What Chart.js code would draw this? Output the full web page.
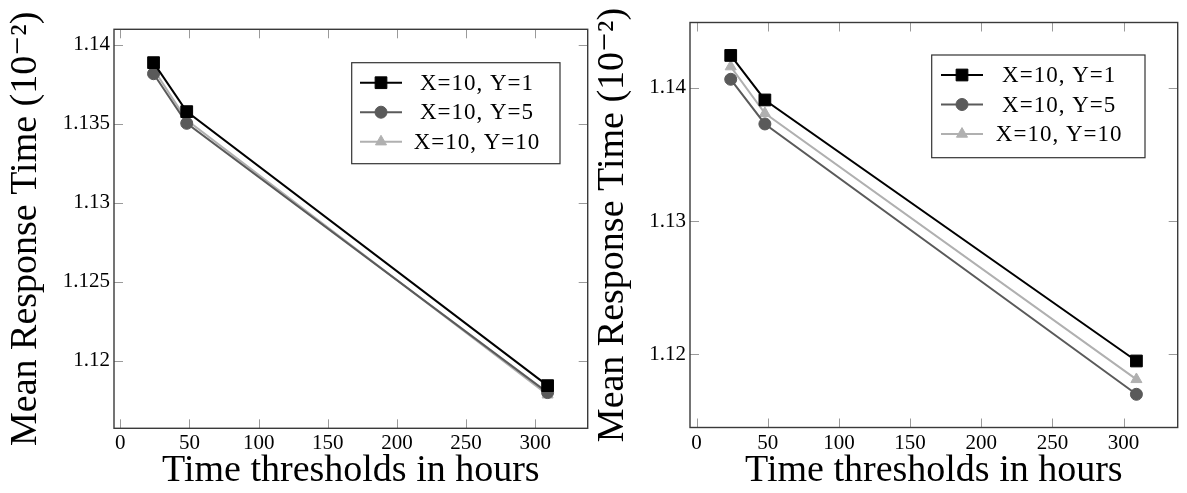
<!DOCTYPE html>
<html>
<head>
<meta charset="utf-8">
<script src="https://cdn.jsdelivr.net/npm/chart.js@4.4.1/dist/chart.umd.min.js"></script>
<style>
  html, body { margin: 0; padding: 0; background: #fff; }
  #wrap { position: relative; width: 1187px; height: 493px; overflow: hidden; }
  .panel { position: absolute; top: 0; height: 493px; }
  #panelA { left: 0; width: 597px; }
  #panelB { left: 590px; width: 597px; }
</style>
</head>
<body>
<div id="wrap">
  <div class="panel" id="panelA"><canvas id="chartA"></canvas></div>
  <div class="panel" id="panelB"><canvas id="chartB"></canvas></div>
</div>
<script>
// Time thresholds (hours) shared by both panels
const hours = [24, 48, 309];

// Series labels
const seriesNames = ['X=10, Y=1', 'X=10, Y=5', 'X=10, Y=10'];

// Left panel: mean response time (units of 10^-2)
const leftY1  = [1.13888, 1.13578, 1.11844];
const leftY5  = [1.13818, 1.13504, 1.11800];
const leftY10 = [1.13846, 1.13525, 1.11786];

// Right panel: mean response time (units of 10^-2)
const rightY1  = [1.14242, 1.13908, 1.11950];
const rightY5  = [1.14063, 1.13728, 1.11700];
const rightY10 = [1.14158, 1.13808, 1.11812];

// Tick values and labels
const xTicks = [0, 50, 100, 150, 200, 250, 300];
const xTickLabels = ['0', '50', '100', '150', '200', '250', '300'];
const leftYTicks = [1.12, 1.125, 1.13, 1.135, 1.14];
const leftYTickLabels = ['1.12', '1.125', '1.13', '1.135', '1.14'];
const rightYTicks = [1.12, 1.13, 1.14];
const rightYTickLabels = ['1.12', '1.13', '1.14'];

const xTitle = 'Time thresholds in hours';
const yTitle = 'Mean Response Time (10\u207B\u00B2)';

const SERIF = '"Liberation Serif", "DejaVu Serif", serif';
const seriesStyle = [
  { color: '#000000', pointStyle: 'rect', radius: 8.3 },
  { color: '#5a5a5a', pointStyle: 'circle', radius: 6 },
  { color: '#b0b0b0', pointStyle: 'triangle', radius: 6.4 }
];

function makeDatasets(seriesValues) {
  return seriesValues.map((vals, i) => ({
    label: seriesNames[i],
    data: hours.map((h, j) => ({ x: h, y: vals[j] })),
    borderColor: seriesStyle[i].color,
    backgroundColor: seriesStyle[i].color,
    pointBackgroundColor: seriesStyle[i].color,
    pointBorderColor: seriesStyle[i].color,
    pointStyle: seriesStyle[i].pointStyle,
    pointRadius: seriesStyle[i].radius,
    pointBorderWidth: 1,
    borderWidth: 2,
    tension: 0,
    clip: false
  }));
}

// Frame with inward tick marks on all four sides
const framePlugin = {
  id: 'frame',
  beforeDatasetsDraw(chart) {
    const { ctx, chartArea: a, scales } = chart;
    const len = 9;
    ctx.save();
    ctx.strokeStyle = '#9a9a9a';
    ctx.lineWidth = 1;
    ctx.beginPath();
    scales.x.ticks.forEach(t => {
      const px = Math.round(scales.x.getPixelForValue(t.value)) + 0.5;
      ctx.moveTo(px, a.bottom); ctx.lineTo(px, a.bottom - len);
      ctx.moveTo(px, a.top); ctx.lineTo(px, a.top + len);
    });
    scales.y.ticks.forEach(t => {
      const py = Math.round(scales.y.getPixelForValue(t.value)) + 0.5;
      ctx.moveTo(a.left, py); ctx.lineTo(a.left + len, py);
      ctx.moveTo(a.right, py); ctx.lineTo(a.right - len, py);
    });
    ctx.stroke();
    ctx.strokeStyle = '#3a3a3a';
    ctx.lineWidth = 1.4;
    ctx.strokeRect(a.left, a.top, a.right - a.left, a.bottom - a.top);
    ctx.restore();
  }
};

// Boxed legend drawn inside the plot area
const boxLegendPlugin = {
  id: 'boxLegend',
  afterDraw(chart, args, opts) {
    const { ctx } = chart;
    const { left, top, width, height, firstRow, rowGap, lineStart, lineLen, textCenter } = opts;
    ctx.save();
    ctx.fillStyle = '#fff';
    ctx.fillRect(left, top, width, height);
    ctx.strokeStyle = '#333';
    ctx.lineWidth = 1.2;
    ctx.strokeRect(left, top, width, height);
    chart.data.datasets.forEach((ds, i) => {
      const y = top + firstRow + i * rowGap;
      const x0 = left + lineStart;
      ctx.strokeStyle = ds.borderColor;
      ctx.lineWidth = 2;
      ctx.beginPath();
      ctx.moveTo(x0, y); ctx.lineTo(x0 + lineLen, y);
      ctx.stroke();
      ctx.fillStyle = ds.pointBackgroundColor;
      ctx.strokeStyle = ds.pointBorderColor;
      ctx.lineWidth = 1;
      Chart.helpers.drawPoint(ctx, {
        pointStyle: ds.pointStyle, rotation: 0, radius: ds.pointRadius, borderWidth: 1
      }, x0 + lineLen / 2, y);
      ctx.fillStyle = '#000';
      ctx.font = '23px ' + SERIF;
      ctx.textAlign = 'center';
      ctx.textBaseline = 'middle';
      if ('letterSpacing' in ctx) ctx.letterSpacing = '1px';
      ctx.fillText(ds.label, left + textCenter, y + 1);
      if ('letterSpacing' in ctx) ctx.letterSpacing = '0px';
    });
    ctx.restore();
  }
};

function makeChart(canvasId, cfg) {
  return new Chart(document.getElementById(canvasId), {
    type: 'line',
    data: { datasets: makeDatasets(cfg.series) },
    options: {
      responsive: true,
      maintainAspectRatio: false,
      animation: false,
      events: [],
      layout: { padding: { top: cfg.padTop, right: cfg.padRight, left: 0, bottom: 0 } },
      plugins: {
        legend: { display: false },
        tooltip: { enabled: false },
        boxLegend: cfg.legend
      },
      scales: {
        x: {
          type: 'linear',
          min: -4.6,
          max: 338,
          grid: { display: false, drawTicks: false },
          border: { display: false },
          afterBuildTicks: s => { s.ticks = xTicks.map(v => ({ value: v })); },
          afterFit: s => { s.height = cfg.xAxisHeight; },
          ticks: {
            color: '#000',
            padding: 3,
            maxRotation: 0,
            autoSkip: false,
            font: { family: SERIF, size: 21 },
            callback: (v) => xTickLabels[xTicks.indexOf(v)]
          },
          title: {
            display: true,
            text: xTitle,
            color: '#000',
            font: { family: SERIF, size: 38, lineHeight: 1 },
            padding: { top: 0, bottom: 3 }
          }
        },
        y: {
          type: 'linear',
          min: cfg.yMin,
          max: cfg.yMax,
          grid: { display: false, drawTicks: false },
          border: { display: false },
          afterBuildTicks: s => { s.ticks = cfg.yTicks.map(v => ({ value: v })); },
          afterFit: s => { s.width = cfg.yAxisWidth; },
          ticks: {
            color: '#000',
            padding: 4,
            autoSkip: false,
            font: { family: SERIF, size: 21 },
            callback: (v) => cfg.yTickLabels[cfg.yTicks.indexOf(v)]
          },
          title: {
            display: true,
            text: yTitle,
            color: '#000',
            font: { family: SERIF, size: 38, lineHeight: 1 },
            padding: { top: cfg.yTitlePad, bottom: 0 }
          }
        }
      }
    },
    plugins: [framePlugin, boxLegendPlugin]
  });
}

makeChart('chartA', {
  series: [leftY1, leftY5, leftY10],
  yMin: 1.11574, yMax: 1.14099,
  yTicks: leftYTicks, yTickLabels: leftYTickLabels,
  padTop: 29.3, padRight: 2,
  xAxisHeight: 64.7, yAxisWidth: 114, yTitlePad: 7,
  legend: { left: 351.7, top: 62.7, width: 208.3, height: 101,
            firstRow: 20, rowGap: 29.5, lineStart: 8.3, lineLen: 42, textCenter: 125.3 }
});

makeChart('chartB', {
  series: [rightY1, rightY5, rightY10],
  yMin: 1.11451, yMax: 1.14489,
  yTicks: rightYTicks, yTickLabels: rightYTickLabels,
  padTop: 22.5, padRight: 7.6,
  xAxisHeight: 65.5, yAxisWidth: 100, yTitlePad: 4,
  legend: { left: 341.7, top: 55, width: 213.3, height: 102.7,
            firstRow: 20, rowGap: 29.5, lineStart: 9.3, lineLen: 42, textCenter: 127.5 }
});
</script>
</body>
</html>
